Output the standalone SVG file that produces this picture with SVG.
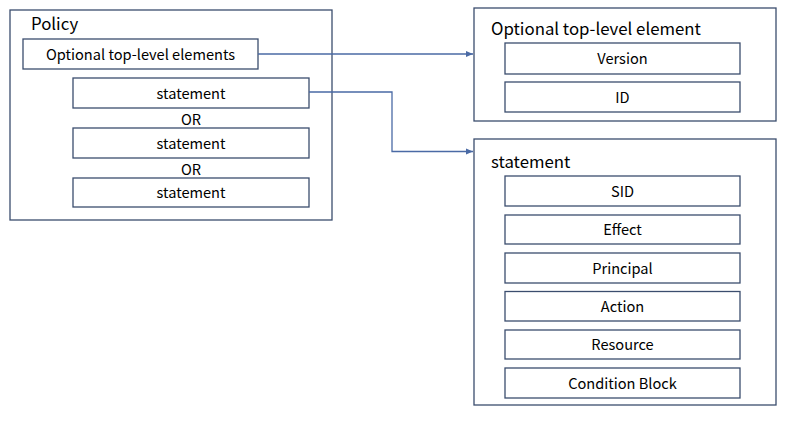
<svg xmlns="http://www.w3.org/2000/svg" width="800" height="435" viewBox="0 0 800 435">
<style>
  .frame { fill: #ffffff; stroke: #3b4d6e; stroke-width: 1.3; }
  .box { fill: #ffffff; stroke: #3b4d6e; stroke-width: 1.3; }
  .t { font-family: "Noto Sans CJK KR", "Noto Sans", sans-serif; font-size: 14.6px; fill: #000; text-anchor: middle; dominant-baseline: central; }
  .title { font-family: "Noto Sans CJK KR", "Noto Sans", sans-serif; font-size: 16.8px; fill: #000; }
  .conn { fill: none; stroke: #4a6aa5; stroke-width: 1.3; }
</style>
<defs>
  <marker id="arr" markerWidth="8" markerHeight="8" refX="7" refY="4" orient="auto" markerUnits="userSpaceOnUse">
    <path d="M0,1 L7,4 L0,7 Z" fill="#4a6aa5"/>
  </marker>
</defs>
<rect width="800" height="435" fill="#ffffff"/>

<g id="policy">
  <rect class="frame" x="10" y="10" width="322" height="210"/>
  <text class="title" x="31" y="30">Policy</text>
  <g id="policy-optional">
    <rect class="box" x="23" y="39" width="235" height="30"/>
    <text class="t" x="140.5" y="53">Optional top-level elements</text>
  </g>
  <g id="policy-statement-1">
    <rect class="box" x="73" y="78" width="236" height="30"/>
    <text class="t" x="191" y="92">statement</text>
  </g>
  <text class="t" x="191" y="118">OR</text>
  <g id="policy-statement-2">
    <rect class="box" x="73" y="128" width="236" height="30"/>
    <text class="t" x="191" y="142">statement</text>
  </g>
  <text class="t" x="191" y="168">OR</text>
  <g id="policy-statement-3">
    <rect class="box" x="73" y="178" width="236" height="29"/>
    <text class="t" x="191" y="191.5">statement</text>
  </g>
</g>

<g id="optional-element">
  <rect class="frame" x="474" y="8" width="302" height="113"/>
  <text class="title" x="491" y="35">Optional top-level element</text>
  <g id="version">
    <rect class="box" x="505" y="43" width="235" height="31"/>
    <text class="t" x="622.5" y="57.5">Version</text>
  </g>
  <g id="id">
    <rect class="box" x="505" y="82" width="235" height="30"/>
    <text class="t" x="622.5" y="96">ID</text>
  </g>
</g>

<g id="statement">
  <rect class="frame" x="474" y="139" width="302" height="266"/>
  <text class="title" x="491" y="168">statement</text>
  <g id="sid">
    <rect class="box" x="505" y="176" width="235" height="30"/>
    <text class="t" x="622.5" y="190">SID</text>
  </g>
  <g id="effect">
    <rect class="box" x="505" y="215" width="235" height="29"/>
    <text class="t" x="622.5" y="228.5">Effect</text>
  </g>
  <g id="principal">
    <rect class="box" x="505" y="253" width="235" height="30"/>
    <text class="t" x="622.5" y="267">Principal</text>
  </g>
  <g id="action">
    <rect class="box" x="505" y="291.5" width="235" height="29.5"/>
    <text class="t" x="622.5" y="305">Action</text>
  </g>
  <g id="resource">
    <rect class="box" x="505" y="330" width="235" height="29"/>
    <text class="t" x="622.5" y="343.5">Resource</text>
  </g>
  <g id="condition">
    <rect class="box" x="505" y="368" width="235" height="30"/>
    <text class="t" x="622.5" y="382">Condition Block</text>
  </g>
</g>

<g id="connectors">
  <path class="conn" d="M258,54 H473" marker-end="url(#arr)"/>
  <path class="conn" d="M309,92 H392 V151.5 H473" marker-end="url(#arr)"/>
</g>
</svg>
